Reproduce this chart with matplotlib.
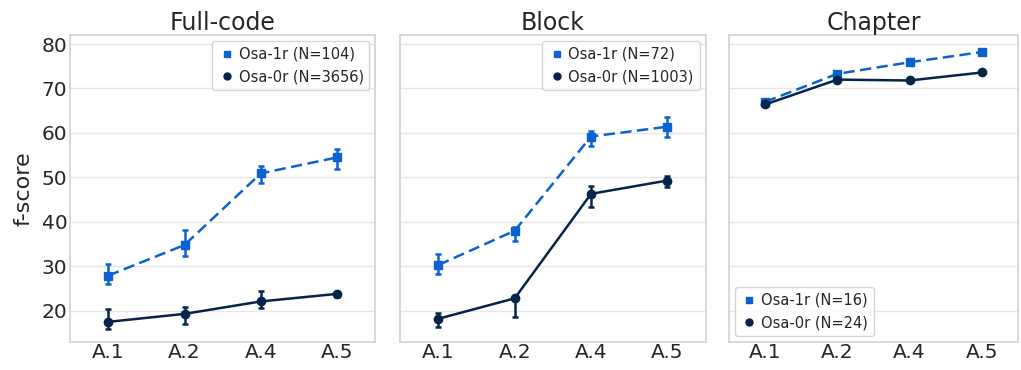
import matplotlib
matplotlib.use('Agg')
import matplotlib.pyplot as plt
from matplotlib.lines import Line2D
import numpy as np
import seaborn as sns

sns.set_theme(style='whitegrid')
plt.rcParams['font.family'] = ['DejaVu Sans']

# categories on the x axis
cats = ['A.1', 'A.2', 'A.4', 'A.5']
titles = ['Full-code', 'Block', 'Chapter']

# Osa-1r: mean, lower, upper
r1_mean = [[27.9, 34.8, 50.9, 54.5], [30.3, 38.0, 59.2, 61.4], [67.0, 73.3, 75.9, 78.2]]
r1_lo = [[26.0, 32.4, 48.8, 52.0], [28.2, 35.7, 57.1, 59.0], [66.6, 72.9, 75.5, 77.9]]
r1_hi = [[30.5, 38.2, 52.6, 56.5], [32.7, 38.9, 60.4, 63.7], [67.4, 73.7, 76.3, 78.5]]
r1_n = [104, 72, 16]

# Osa-0r: mean, lower, upper
r0_mean = [[17.5, 19.3, 22.1, 23.8], [18.2, 22.8, 46.3, 49.3], [66.4, 72.0, 71.8, 73.6]]
r0_lo = [[16.0, 17.1, 20.7, 23.0], [16.3, 18.6, 43.4, 47.9], [66.1, 71.7, 71.5, 73.3]]
r0_hi = [[20.4, 20.9, 24.5, 24.3], [19.6, 23.2, 48.1, 50.3], [66.7, 72.3, 72.1, 73.9]]
r0_n = [3656, 1003, 24]

c_1r = '#0a62d0'
c_0r = '#062449'

fig = plt.figure(figsize=(10.21, 3.70), dpi=100)
lefts = [0.0686, 0.392, 0.714]
axes = []
for i in range(3):
    ax = fig.add_axes([lefts[i], 0.076, 0.299 if i < 2 else 0.283, 0.829],
                      sharey=axes[0] if axes else None)
    axes.append(ax)
    x = np.arange(len(cats))
    m1 = np.array(r1_mean[i])
    e1 = [m1 - np.array(r1_lo[i]), np.array(r1_hi[i]) - m1]
    m0 = np.array(r0_mean[i])
    e0 = [m0 - np.array(r0_lo[i]), np.array(r0_hi[i]) - m0]
    ax.errorbar(x, m1, yerr=e1, color=c_1r, marker='s', ms=6, lw=1.8, ls='--',
                dashes=(4.5, 2.2), capsize=2, elinewidth=1.8, capthick=1.8,
                label=f'Osa-1r (N={r1_n[i]})')
    ax.errorbar(x, m0, yerr=e0, color=c_0r, marker='o', ms=6, lw=1.8, ls='-',
                capsize=2, elinewidth=1.8, capthick=1.8,
                label=f'Osa-0r (N={r0_n[i]})')
    ax.set_xticks(x)
    ax.set_xticklabels(cats, fontsize=14.5)
    ax.set_xlim(-0.5, 3.5)
    ax.set_ylim(13, 82)
    ax.set_yticks([20, 30, 40, 50, 60, 70, 80])
    ax.grid(axis='x', visible=False)
    ax.grid(axis='y', color='#e6e6e6', lw=1)
    ax.set_title(titles[i], fontsize=17, pad=4)
    for s in ax.spines.values():
        s.set_color('#d4d4d4')
    ax.tick_params(axis='y', labelsize=14.5, pad=2, length=0)
    ax.tick_params(axis='x', pad=1, length=0)
    # legend markers only, no lines
    h, l = ax.get_legend_handles_labels()
    hh = [Line2D([], [], color=c_1r, marker='s', ls='', ms=5),
          Line2D([], [], color=c_0r, marker='o', ls='', ms=5)]
    loc = 'upper right' if i < 2 else 'lower left'
    ax.legend(hh, l, loc=loc, fontsize=10.5, handletextpad=0.2, handlelength=1.2,
              borderaxespad=0.4, frameon=True)
    if i > 0:
        plt.setp(ax.get_yticklabels(), visible=False)

axes[0].set_ylabel('f-score', fontsize=16, labelpad=6)

fig.savefig('out.png', dpi=100)
